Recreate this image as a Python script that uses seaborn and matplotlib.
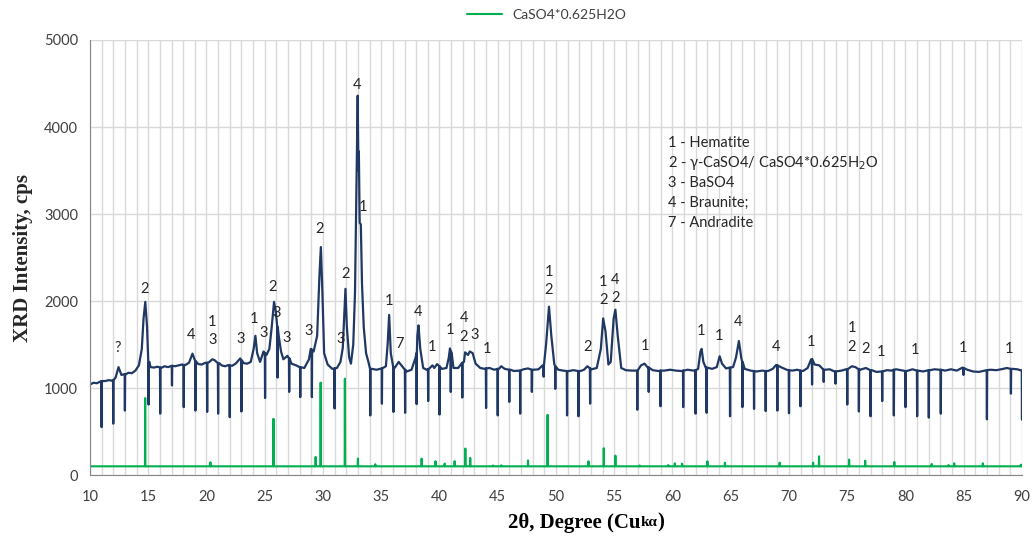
import numpy as np
import pandas as pd
import matplotlib
matplotlib.use("Agg")
import matplotlib.pyplot as plt
import seaborn as sns

blue_pts = [
    (10.0, 1040), (10.3, 1060), (10.6, 1055), (10.9, 1075), (11.3, 1080), (11.6, 1090),
    (11.9, 1085), (12.2, 1120), (12.45, 1240), (12.7, 1150), (13.1, 1160), (13.3, 1175),
    (13.6, 1170), (13.9, 1200), (14.2, 1260), (14.45, 1450), (14.6, 1800), (14.75, 1990),
    (14.9, 1700), (15.1, 1300), (15.2, 1240), (15.5, 1235), (15.8, 1245), (16.1, 1230),
    (16.4, 1250), (16.7, 1240), (17.1, 1255), (17.3, 1250), (17.6, 1260), (17.9, 1270),
    (18.2, 1265), (18.5, 1290), (18.8, 1395), (19.0, 1320), (19.3, 1275), (19.6, 1270),
    (19.9, 1290), (20.2, 1295), (20.5, 1330), (20.7, 1320), (21.1, 1285), (21.3, 1260),
    (21.6, 1250), (21.9, 1265), (22.2, 1255), (22.5, 1280), (22.9, 1340), (23.2, 1285),
    (23.5, 1280), (23.8, 1300), (24.05, 1450), (24.2, 1600), (24.35, 1400), (24.6, 1300),
    (24.9, 1420), (25.15, 1380), (25.4, 1450), (25.6, 1700), (25.8, 1990), (25.95, 1880),
    (26.2, 1600), (26.4, 1420), (26.6, 1330), (26.95, 1370), (27.3, 1280), (27.7, 1260),
    (28.0, 1240), (28.4, 1230), (28.8, 1330), (28.95, 1450), (29.2, 1420), (29.5, 1600),
    (29.7, 2300), (29.82, 2620), (29.95, 2100), (30.1, 1400), (30.4, 1270), (30.8, 1220),
    (31.2, 1230), (31.5, 1300), (31.7, 1460), (31.85, 1900), (31.93, 2140), (32.05, 1700),
    (32.25, 1350), (32.4, 1280), (32.6, 1500), (32.75, 2100), (32.88, 3400), (32.98, 4360),
    (33.04, 3500), (33.08, 3720), (33.15, 2900), (33.25, 2880), (33.35, 2200), (33.5, 1700),
    (33.7, 1400), (33.9, 1300), (34.2, 1220), (34.6, 1210), (34.9, 1220), (35.4, 1250),
    (35.55, 1500), (35.68, 1840), (35.82, 1400), (36.15, 1230), (36.5, 1300), (36.8, 1250),
    (37.2, 1190), (37.6, 1210), (37.95, 1350), (38.1, 1600), (38.2, 1720), (38.35, 1450),
    (38.6, 1230), (38.9, 1210), (39.4, 1260), (39.55, 1230), (39.8, 1275), (40.2, 1220),
    (40.6, 1230), (40.8, 1350), (40.9, 1455), (41.05, 1400), (41.2, 1230), (41.6, 1230),
    (42.1, 1300), (42.2, 1410), (42.45, 1380), (42.6, 1420), (42.85, 1400), (43.1, 1280),
    (43.5, 1230), (43.9, 1220), (44.3, 1230), (44.7, 1210), (45.1, 1220), (45.3, 1250),
    (45.6, 1220), (46.1, 1210), (46.4, 1195), (46.8, 1200), (47.2, 1215), (47.6, 1225),
    (48.1, 1210), (48.5, 1215), (48.85, 1260), (49.15, 1500), (49.4, 1935), (49.6, 1600),
    (49.85, 1280), (50.2, 1210), (50.6, 1200), (51.1, 1195), (51.5, 1205), (52.1, 1195),
    (52.4, 1210), (52.7, 1250), (53.05, 1215), (53.5, 1230), (53.85, 1450), (54.05, 1800),
    (54.25, 1650), (54.5, 1270), (54.7, 1300), (54.95, 1800), (55.1, 1900), (55.3, 1600),
    (55.6, 1230), (56.0, 1205), (56.5, 1200), (56.9, 1200), (57.3, 1260), (57.6, 1280),
    (57.85, 1240), (58.3, 1205), (58.8, 1195), (59.3, 1200), (59.8, 1210), (60.3, 1200),
    (60.8, 1195), (61.3, 1210), (61.8, 1200), (62.2, 1220), (62.4, 1420), (62.5, 1450),
    (62.65, 1300), (62.85, 1235), (63.4, 1220), (63.8, 1240), (64.05, 1365), (64.25, 1280),
    (64.6, 1225), (65.2, 1240), (65.45, 1350), (65.7, 1540), (65.9, 1350), (66.2, 1220),
    (66.7, 1200), (67.2, 1190), (67.7, 1200), (68.2, 1195), (68.6, 1220), (68.9, 1265),
    (69.3, 1240), (69.8, 1210), (70.3, 1200), (70.7, 1210), (71.2, 1195), (71.6, 1230),
    (71.9, 1330), (72.2, 1270), (72.6, 1260), (73.1, 1210), (73.5, 1215), (73.9, 1190),
    (74.5, 1200), (74.9, 1215), (75.4, 1250), (75.7, 1240), (76.1, 1210), (76.6, 1230),
    (77.1, 1205), (77.5, 1185), (77.9, 1190), (78.4, 1205), (78.8, 1200), (79.2, 1215),
    (79.6, 1205), (80.1, 1195), (80.6, 1215), (81.1, 1200), (81.5, 1190), (82.1, 1205),
    (82.5, 1215), (82.9, 1210), (83.4, 1200), (83.9, 1215), (84.4, 1200), (84.9, 1235),
    (85.3, 1210), (85.8, 1190), (86.3, 1185), (86.8, 1200), (87.3, 1210), (87.8, 1205),
    (88.2, 1215), (88.7, 1230), (89.2, 1220), (89.6, 1215), (89.95, 1200),
]

# narrow downward dropouts: (2theta, level above, bottom)
spikes = [
    (11.0, 1080, 550), (12.0, 1090, 590), (13.0, 1160, 740), (15.03, 1290, 810),
    (16.03, 1235, 705), (17.04, 1255, 1030), (18.05, 1265, 780), (19.05, 1310, 740),
    (20.06, 1290, 725), (21.0, 1285, 705), (22.0, 1260, 665), (23.0, 1320, 730),
    (25.03, 1400, 885), (26.1, 1700, 1120), (27.1, 1340, 955), (28.05, 1240, 895),
    (29.05, 1440, 895), (31.0, 1225, 765), (34.06, 1220, 685), (35.06, 1225, 820),
    (36.05, 1240, 725), (37.05, 1210, 715), (38.04, 1400, 815), (39.03, 1215, 850),
    (40.0, 1250, 695), (40.97, 1420, 955), (41.96, 1290, 890), (44.0, 1225, 770),
    (45.0, 1220, 685), (45.99, 1210, 840), (46.93, 1200, 705), (47.93, 1210, 955),
    (48.94, 1255, 1130), (49.94, 1250, 990), (50.95, 1195, 685), (51.93, 1195, 675),
    (52.93, 1225, 820), (56.98, 1200, 750), (57.96, 1235, 955), (58.97, 1200, 790),
    (60.92, 1200, 780), (61.98, 1205, 705), (62.93, 1235, 715), (64.94, 1235, 675),
    (66.0, 1300, 780), (67.0, 1195, 760), (68.0, 1195, 735), (69.0, 1260, 740),
    (70.0, 1205, 710), (70.98, 1200, 790), (71.98, 1330, 1040), (72.98, 1210, 1070),
    (73.99, 1190, 1050), (75.0, 1215, 810), (76.0, 1215, 730), (77.0, 1205, 675),
    (78.0, 1190, 850), (79.0, 1210, 685), (80.0, 1195, 780), (81.0, 1200, 675),
    (82.0, 1205, 660), (83.03, 1210, 705), (84.98, 1230, 1150), (86.99, 1205, 640),
    (89.05, 1220, 935), (90.0, 1200, 635),
]

# reference pattern CaSO4*0.625H2O: baseline and stick heights
ref_base = 100
ref_x = [14.74, 20.34, 25.75, 29.37, 29.8, 31.88, 33.0, 34.49, 38.47, 39.66, 40.45, 41.3,
         42.22, 42.64, 44.6, 45.3, 47.6, 49.28, 52.79, 54.1, 55.1, 57.18, 59.63, 60.2,
         60.83, 63.0, 64.5, 69.2, 72.07, 72.58, 75.16, 76.54, 79.04, 82.25, 83.69, 84.18,
         86.64, 89.9]
ref_h = [885, 146, 646, 208, 1062, 1107, 189, 124, 189, 159, 132, 159,
         304, 197, 110, 112, 168, 692, 158, 308, 223, 110, 115, 135,
         130, 158, 142, 142, 142, 215, 177, 165, 150, 127, 115, 135,
         135, 119]

# phase labels (x, y, text)
peak_labels = [
    (12.4, 1460, "?"), (14.7, 2140, "2"), (18.7, 1610, "4"), (20.5, 1760, "1"),
    (20.5, 1550, "3"), (22.9, 1565, "3"), (24.1, 1795, "1"), (24.9, 1635, "3"),
    (25.7, 2160, "2"), (26.0, 1860, "3"), (26.9, 1575, "3"), (28.8, 1655, "3"),
    (29.75, 2830, "2"), (31.5, 1565, "3"), (31.9, 2310, "2"), (32.9, 4480, "4"),
    (33.45, 3080, "1"), (35.67, 2000, "1"), (36.6, 1505, "7"), (38.15, 1875, "4"),
    (39.35, 1470, "1"), (40.9, 1665, "1"), (42.1, 1805, "4"), (42.1, 1585, "2"),
    (43.05, 1610, "3"), (44.1, 1450, "1"), (49.4, 2335, "1"), (49.4, 2125, "2"),
    (52.75, 1470, "2"), (54.05, 2220, "1"), (54.05, 2010, "2"), (55.1, 2240, "4"),
    (55.1, 2035, "2"), (57.65, 1485, "1"), (62.45, 1655, "1"), (64.0, 1600, "1"),
    (65.6, 1760, "4"), (68.9, 1470, "4"), (71.9, 1530, "1"), (75.4, 1690, "1"),
    (75.4, 1470, "2"), (76.6, 1450, "2"), (77.9, 1415, "1"), (80.8, 1440, "1"),
    (84.9, 1460, "1"), (88.9, 1450, "1"),
]
phase_key = ["1 - Hematite", "2 - \u03b3-CaSO4/ CaSO4*0.625H$_2$O", "3 - BaSO4",
             "4 - Braunite;", "7 - Andradite"]

# build the line tables
rows = list(blue_pts)
for x, top, bot in spikes:
    rows += [(x - 0.02, top), (x, bot), (x + 0.02, top)]
blue = pd.DataFrame(rows, columns=["theta", "cps"]).sort_values("theta", kind="mergesort")

rrows = [(10.0, ref_base), (90.0, ref_base)]
for x, h in zip(ref_x, ref_h):
    rrows += [(x - 0.02, ref_base), (x, h), (x + 0.02, ref_base)]
ref = pd.DataFrame(rrows, columns=["theta", "cps"]).sort_values("theta", kind="mergesort")

sns.set_style("white")
plt.rcParams["font.family"] = ["Lato", "DejaVu Sans"]

fig = plt.figure(figsize=(10.34, 5.42), dpi=100)
ax = fig.add_axes([0.087, 0.1236, 0.9014, 0.8026])

sns.lineplot(data=ref, x="theta", y="cps", ax=ax, color="#00B050", lw=1.5,
             estimator=None, sort=False, label="CaSO4*0.625H2O")
sns.lineplot(data=blue, x="theta", y="cps", ax=ax, color="#1F3864", lw=1.6,
             estimator=None, sort=False, legend=False)

ax.set_xlim(10, 90)
ax.set_ylim(0, 5000)
ax.set_xticks(np.arange(10, 91, 5))
ax.set_xticks(np.arange(10, 91, 1), minor=True)
ax.set_yticks(np.arange(0, 5001, 1000))
ax.grid(True, which="major", axis="y", color="#D9D9D9", lw=1)
ax.grid(True, which="both", axis="x", color="#D9D9D9", lw=1)
ax.set_axisbelow(True)
for s in ["top", "right"]:
    ax.spines[s].set_visible(False)
for s in ["left", "bottom"]:
    ax.spines[s].set_color("#868686")
ax.tick_params(axis="both", which="major", length=5, color="#868686",
               labelsize=10.5, labelcolor="#404040", direction="out")
ax.tick_params(axis="x", which="minor", length=0)
ax.tick_params(axis="x", pad=6)

# x label: "kα" drawn smaller, as in the original
ax.set_xlabel("")
serif = dict(fontfamily="Liberation Serif", fontweight="bold", color="black")
t1 = fig.text(0.491, 0.026, "2\u03b8, Degree (Cu", fontsize=15, ha="left",
              va="baseline", **serif)
t2 = ax.annotate("k\u03b1", xy=(1, 0), xycoords=t1, xytext=(0, 2.5),
                 textcoords="offset points", va="bottom", ha="left", fontsize=11, **serif)
ax.annotate(")", xy=(1, 0), xycoords=t2, xytext=(0, -2.5),
            textcoords="offset points", va="bottom", ha="left", fontsize=15, **serif)

ax.set_ylabel("XRD Intensity, cps", fontfamily="Liberation Serif",
              fontweight="bold", fontsize=15, labelpad=8)

for x, y, t in peak_labels:
    ax.text(x, y, t, ha="center", va="center", fontsize=10.5, color="#262626")

for i, line in enumerate(phase_key):
    ax.text(59.6, 3816 - i * 230, line, ha="left", va="center", fontsize=10.5,
            color="#262626")

ax.legend(loc="center", bbox_to_anchor=(0.49, 1.057), frameon=False,
          fontsize=10, handlelength=2.5, labelcolor="#404040")

fig.savefig("out.png", dpi=100)
plt.close(fig)
